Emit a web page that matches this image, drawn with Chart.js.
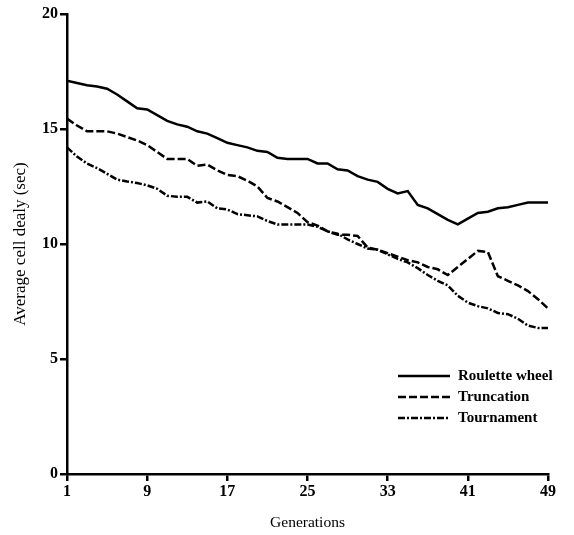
<!DOCTYPE html>
<html>
<head>
<meta charset="utf-8">
<script src="https://cdn.jsdelivr.net/npm/chart.js@4/dist/chart.umd.min.js"></script>
<style>
  html, body { margin: 0; padding: 0; background: #fff; }
  #wrap { width: 574px; height: 535px; position: relative; }
</style>
</head>
<body>
<div id="wrap"><canvas id="c" width="574" height="535"></canvas></div>
<script>
const generations = Array.from({length: 49}, (_, i) => i + 1);
const xTickValues = [1, 9, 17, 25, 33, 41, 49];
const yTickValues = [0, 5, 10, 15, 20];
const seriesNames = ["Roulette wheel", "Truncation", "Tournament"];

const rouletteWheel = [
  17.1, 17.0, 16.9, 16.85, 16.75, 16.5, 16.2, 15.9, 15.85, 15.6,
  15.35, 15.2, 15.1, 14.9, 14.8, 14.6, 14.4, 14.3, 14.2, 14.05,
  14.0, 13.75, 13.7, 13.7, 13.7, 13.5, 13.5, 13.25, 13.2, 12.95,
  12.8, 12.7, 12.4, 12.2, 12.3, 11.7, 11.55, 11.3, 11.05, 10.85,
  11.1, 11.35, 11.4, 11.55, 11.6, 11.7, 11.8, 11.8, 11.8
];
const truncation = [
  15.45, 15.15, 14.9, 14.9, 14.9, 14.8, 14.65, 14.5, 14.3, 14.0,
  13.7, 13.7, 13.7, 13.4, 13.45, 13.2, 13.0, 12.95, 12.75, 12.5,
  12.0, 11.85, 11.6, 11.35, 10.95, 10.8, 10.55, 10.4, 10.4, 10.35,
  9.85, 9.75, 9.6, 9.45, 9.3, 9.2, 9.0, 8.9, 8.65, 9.0,
  9.35, 9.7, 9.65, 8.6, 8.4, 8.2, 7.95, 7.6, 7.2
];
const tournament = [
  14.2, 13.8, 13.5, 13.3, 13.05, 12.8, 12.72, 12.65, 12.55, 12.4,
  12.1, 12.05, 12.05, 11.8, 11.85, 11.55, 11.5, 11.3, 11.25, 11.2,
  11.0, 10.85, 10.85, 10.85, 10.85, 10.75, 10.55, 10.45, 10.2, 10.0,
  9.8, 9.75, 9.55, 9.35, 9.2, 8.95, 8.65, 8.4, 8.2, 7.75,
  7.45, 7.3, 7.2, 7.0, 6.95, 6.75, 6.45, 6.35, 6.35
];

const FONT = "'Liberation Serif', 'Times New Roman', serif";
const toPts = arr => generations.map((g, i) => ({x: g, y: arr[i]}));

const dashes = [[], [8, 3], [7, 2, 2, 2]];
const seriesData = [rouletteWheel, truncation, tournament];

const legendPlugin = {
  id: 'insideLegend',
  afterDraw(chart) {
    const ctx = chart.ctx;
    const rows = [376, 397, 418];
    ctx.save();
    chart.data.datasets.forEach((ds, i) => {
      const y = rows[i];
      ctx.beginPath();
      ctx.setLineDash(ds.borderDash || []);
      ctx.lineWidth = 2.5;
      ctx.strokeStyle = '#000';
      ctx.moveTo(398, y);
      ctx.lineTo(450, y);
      ctx.stroke();
      ctx.setLineDash([]);
      ctx.fillStyle = '#000';
      ctx.font = "bold 15px " + FONT;
      ctx.textBaseline = 'middle';
      ctx.textAlign = 'left';
      ctx.fillText(ds.label, 458, y);
    });
    ctx.restore();
  }
};

new Chart(document.getElementById('c'), {
  type: 'line',
  data: {
    datasets: seriesNames.map((name, i) => ({
      label: name,
      data: toPts(seriesData[i]),
      borderColor: '#000',
      borderWidth: 2.5,
      borderDash: dashes[i],
      pointRadius: 0,
      tension: 0,
      fill: false
    }))
  },
  options: {
    responsive: false,
    animation: false,
    layout: { padding: { top: 14, right: 26, bottom: 3, left: 2 } },
    plugins: { legend: { display: false }, tooltip: { enabled: false } },
    scales: {
      x: {
        type: 'linear',
        min: 1, max: 49,
        afterBuildTicks: s => { s.ticks = xTickValues.map(v => ({value: v})); },
        afterFit: s => { s.height = 58; },
        border: { display: true, color: '#000', width: 2.5 },
        grid: { display: true, drawOnChartArea: false, drawTicks: true, tickLength: 7, color: '#000', lineWidth: 2.5 },
        ticks: { color: '#000', font: { family: FONT, size: 16, weight: 'bold' }, padding: 1, maxRotation: 0, autoSkip: false },
        title: { display: true, text: 'Generations', color: '#000', font: { family: FONT, size: 15.5 }, padding: { top: 0, bottom: 0 } }
      },
      y: {
        type: 'linear',
        min: 0, max: 20,
        afterBuildTicks: s => { s.ticks = yTickValues.map(v => ({value: v})); },
        afterFit: s => { s.width = 65; },
        border: { display: true, color: '#000', width: 2.5 },
        grid: { display: true, drawOnChartArea: false, drawTicks: true, tickLength: 7, color: '#000', lineWidth: 2.5 },
        ticks: { color: '#000', font: { family: FONT, size: 16, weight: 'bold' }, padding: 2 },
        title: { display: true, text: 'Average cell dealy (sec)', color: '#000', font: { family: FONT, size: 17 }, padding: { top: 8, bottom: 4 } }
      }
    }
  },
  plugins: [legendPlugin]
});
</script>
</body>
</html>
